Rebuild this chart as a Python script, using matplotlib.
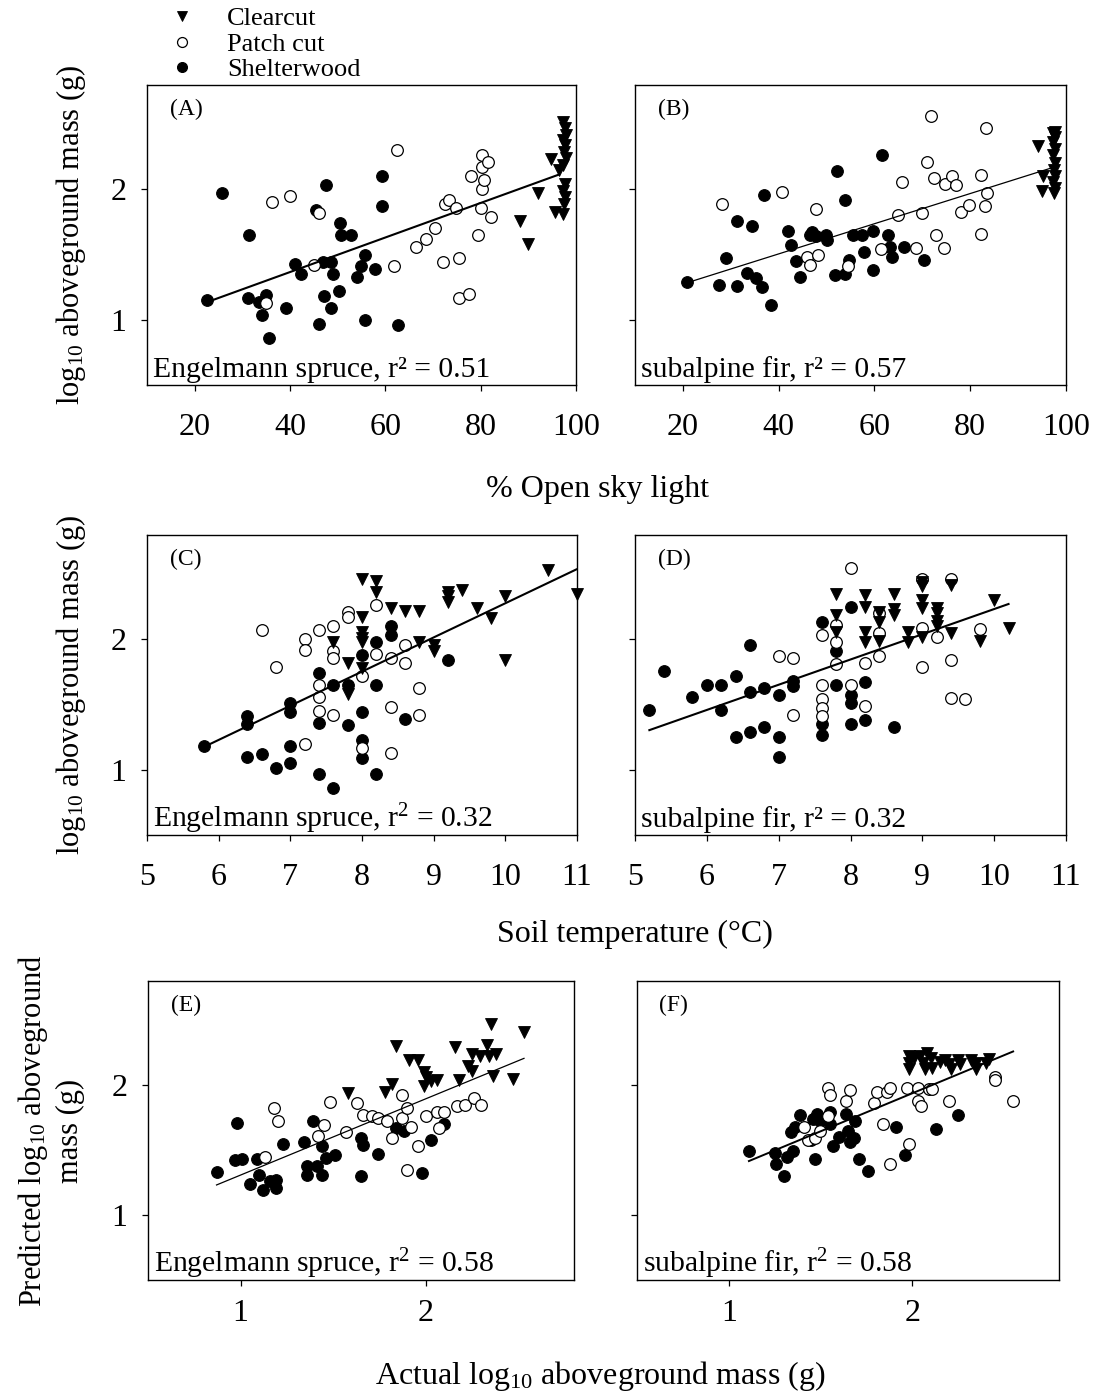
import matplotlib
matplotlib.use("Agg")
import matplotlib.pyplot as plt

plt.rcParams['font.family'] = ['Liberation Serif', 'DejaVu Serif']
plt.rcParams['mathtext.fontset'] = 'custom'
plt.rcParams['mathtext.rm'] = 'Liberation Serif'
plt.rcParams['mathtext.it'] = 'Liberation Serif:italic'

# ---- data ----
# (A) Engelmann spruce vs % open sky light
A_shelter_x = [22.5, 25.8, 31.4, 31.1, 33.5, 34.9, 34.2, 35.6, 39.1, 41.0, 42.3, 45.5, 46.0, 47.0, 47.5, 47.1,
               48.6, 48.7, 49.1, 50.2, 50.5, 50.8, 52.8, 54.0, 54.9, 55.8, 55.8, 57.9, 59.4, 59.4, 62.7]
A_shelter_y = [1.15, 1.97, 1.65, 1.17, 1.14, 1.19, 1.04, 0.86, 1.09, 1.43, 1.35, 1.84, 0.97, 1.44, 2.03, 1.18,
               1.09, 1.44, 1.35, 1.22, 1.74, 1.65, 1.65, 1.33, 1.41, 1.50, 1.00, 1.39, 2.10, 1.87, 0.96]
A_patch_x = [36.3, 40.0, 35.0, 45.1, 46.1, 61.9, 62.5, 66.5, 68.6, 70.5, 72.0, 72.6, 73.3, 74.8, 75.5, 75.4,
             77.6, 78.0, 79.5, 80.0, 80.3, 80.7, 80.3, 80.3, 81.5, 82.2]
A_patch_y = [1.90, 1.95, 1.13, 1.42, 1.82, 1.41, 2.30, 1.56, 1.62, 1.70, 1.44, 1.89, 1.92, 1.86, 1.47, 1.17,
             1.20, 2.10, 1.65, 1.86, 2.00, 2.07, 2.17, 2.26, 2.21, 1.79]
A_clear_x = [88.2, 89.9, 92.0, 94.8, 95.5, 96.4, 97.3, 97.6, 97.2, 97.7, 97.4, 97.8, 97.3, 97.6, 97.2, 97.7,
             97.5, 97.3, 97.8]
A_clear_y = [1.76, 1.58, 1.97, 2.23, 1.83, 2.15, 2.52, 2.47, 2.38, 2.34, 2.29, 2.24, 2.19, 2.04, 1.99, 1.94,
             1.89, 1.81, 2.42]

# (B) subalpine fir vs % open sky light
B_shelter_x = [20.9, 27.5, 29.1, 31.2, 31.3, 33.4, 35.2, 34.5, 36.6, 37.0, 38.5, 42.0, 42.6, 43.6, 44.4, 46.6,
               46.9, 47.9, 49.9, 50.1, 51.8, 53.8, 52.1, 53.9, 54.7, 55.6, 57.4, 57.9, 59.8, 59.8, 61.6, 62.8,
               63.3, 63.7, 66.1, 70.3]
B_shelter_y = [1.29, 1.27, 1.47, 1.76, 1.26, 1.36, 1.32, 1.72, 1.25, 1.96, 1.11, 1.68, 1.57, 1.45, 1.33, 1.65,
               1.67, 1.64, 1.65, 1.61, 1.34, 1.35, 2.14, 1.92, 1.46, 1.65, 1.65, 1.52, 1.68, 1.38, 2.26, 1.65,
               1.56, 1.48, 1.56, 1.46]
B_patch_x = [28.2, 40.6, 47.7, 45.9, 46.6, 48.3, 54.4, 61.4, 64.9, 65.8, 68.7, 70.0, 71.0, 71.9, 72.4, 72.9,
             74.7, 74.6, 76.1, 77.0, 78.1, 79.7, 82.2, 82.2, 83.1, 83.5, 83.2]
B_patch_y = [1.89, 1.98, 1.85, 1.48, 1.42, 1.50, 1.41, 1.54, 1.80, 2.06, 1.55, 1.82, 2.21, 2.56, 2.09, 1.65,
             2.04, 1.55, 2.10, 2.03, 1.83, 1.88, 2.11, 1.66, 1.87, 1.97, 2.47]
B_clear_x = [94.1, 95.1, 95.0, 97.2, 97.6, 97.3, 97.8, 97.2, 97.6, 97.4, 97.8, 97.3, 97.6, 97.4, 97.8]
B_clear_y = [2.33, 2.10, 1.99, 2.43, 2.40, 2.36, 2.31, 2.26, 2.20, 2.15, 2.10, 2.06, 2.01, 1.97, 2.44]

# (C) Engelmann spruce vs soil temperature
C_shelter_x = [5.8, 6.4, 6.4, 6.4, 6.6, 6.8, 7.0, 7.0, 7.0, 7.0, 7.4, 7.4, 7.4, 7.6, 7.6, 7.8, 7.8, 8.0, 8.0,
               8.0, 8.0, 8.2, 8.2, 8.2, 8.4, 8.4, 8.6, 9.2]
C_shelter_y = [1.18, 1.41, 1.35, 1.10, 1.12, 1.01, 1.51, 1.44, 1.18, 1.05, 1.74, 1.36, 0.97, 1.65, 0.86, 1.65,
               1.34, 1.88, 1.44, 1.23, 1.09, 1.65, 0.97, 1.98, 2.10, 2.03, 1.39, 1.84]
C_patch_x = [6.6, 6.8, 7.2, 7.2, 7.2, 7.4, 7.4, 7.4, 7.4, 7.6, 7.6, 7.6, 7.6, 7.8, 7.8, 8.0, 8.0, 8.2, 8.2,
             8.4, 8.4, 8.4, 8.6, 8.6, 8.8, 8.8]
C_patch_y = [2.07, 1.79, 2.00, 1.92, 1.20, 2.07, 1.65, 1.56, 1.45, 2.10, 1.91, 1.86, 1.42, 2.21, 2.17, 1.72,
             1.17, 2.26, 1.89, 1.86, 1.48, 1.13, 1.96, 1.82, 1.63, 1.42]
C_clear_x = [8.0, 8.2, 8.2, 8.0, 7.6, 7.8, 7.8, 8.0, 8.0, 8.0, 8.0, 8.4, 8.6, 8.8, 8.8, 9.0, 9.0, 9.2, 9.2,
             9.2, 9.4, 9.6, 9.8, 10.0, 10.0, 10.6, 11.0]
C_clear_y = [2.46, 2.45, 2.36, 2.17, 1.98, 1.82, 1.58, 2.06, 2.01, 1.98, 1.78, 2.24, 2.22, 2.22, 1.98, 1.96,
             1.91, 2.36, 2.33, 2.29, 2.38, 2.24, 2.16, 2.33, 1.84, 2.53, 2.35]

# (D) subalpine fir vs soil temperature
D_shelter_x = [5.2, 5.4, 5.8, 6.0, 6.2, 6.2, 6.4, 6.4, 6.6, 6.6, 6.6, 6.8, 6.8, 7.0, 7.0, 7.0, 7.2, 7.2, 7.6,
               7.6, 7.6, 7.8, 7.8, 8.0, 8.0, 8.0, 8.0, 8.2, 8.2, 8.6]
D_shelter_y = [1.46, 1.76, 1.56, 1.65, 1.65, 1.46, 1.72, 1.25, 1.96, 1.60, 1.29, 1.63, 1.33, 1.57, 1.25, 1.10,
               1.68, 1.64, 2.13, 1.35, 1.27, 1.91, 1.65, 2.25, 1.57, 1.51, 1.35, 1.67, 1.38, 1.33]
D_patch_x = [7.0, 7.2, 7.2, 7.6, 7.6, 7.6, 7.6, 7.6, 7.8, 7.8, 7.8, 8.0, 8.0, 8.2, 8.2, 8.4, 8.4, 8.4, 9.0,
             9.0, 9.0, 9.2, 9.4, 9.4, 9.4, 9.6, 9.8]
D_patch_y = [1.87, 1.86, 1.42, 2.03, 1.65, 1.54, 1.47, 1.41, 2.11, 1.98, 1.81, 2.55, 1.65, 1.82, 1.49, 2.20,
             2.05, 1.87, 2.46, 2.09, 1.79, 2.02, 2.46, 1.84, 1.55, 1.54, 2.08]
D_clear_x = [7.8, 7.8, 7.8, 8.2, 8.2, 8.2, 8.2, 8.4, 8.4, 8.6, 8.6, 8.6, 8.8, 8.8, 9.0, 9.0, 9.0, 9.0, 9.2,
             9.2, 9.2, 9.2, 9.4, 9.4, 9.8, 10.0, 10.2, 8.4, 9.0]
D_clear_y = [2.35, 2.19, 2.06, 2.34, 2.25, 2.06, 1.98, 2.13, 1.99, 2.35, 2.23, 2.19, 2.06, 1.98, 2.41, 2.30,
             2.24, 2.02, 2.24, 2.20, 2.14, 2.10, 2.42, 2.05, 1.99, 2.30, 2.09, 2.21, 2.44]

# (E) Engelmann spruce, predicted vs actual
E_shelter_x = [0.87, 0.98, 0.97, 1.01, 1.05, 1.09, 1.10, 1.12, 1.16, 1.19, 1.19, 1.23, 1.34, 1.36, 1.36, 1.39,
               1.41, 1.44, 1.44, 1.46, 1.51, 1.65, 1.66, 1.65, 1.74, 1.84, 1.88, 1.98, 2.03, 2.10]
E_shelter_y = [1.33, 1.71, 1.42, 1.43, 1.24, 1.43, 1.31, 1.19, 1.26, 1.21, 1.27, 1.55, 1.56, 1.38, 1.31, 1.72,
               1.38, 1.53, 1.31, 1.44, 1.46, 1.59, 1.54, 1.30, 1.47, 1.67, 1.65, 1.32, 1.58, 1.70]
E_patch_x = [1.13, 1.18, 1.20, 1.42, 1.45, 1.48, 1.57, 1.63, 1.66, 1.71, 1.74, 1.79, 1.82, 1.87, 1.87, 1.90,
             1.92, 1.96, 1.90, 2.00, 2.06, 2.07, 2.10, 2.17, 2.21, 2.26, 2.30]
E_patch_y = [1.45, 1.82, 1.72, 1.61, 1.69, 1.87, 1.64, 1.86, 1.77, 1.76, 1.75, 1.72, 1.59, 1.92, 1.75, 1.82,
             1.68, 1.53, 1.35, 1.76, 1.79, 1.67, 1.79, 1.84, 1.85, 1.90, 1.85]
E_clear_x = [1.58, 1.78, 1.82, 1.84, 1.91, 1.96, 1.99, 1.99, 2.00, 2.03, 2.06, 2.16, 2.18, 2.23, 2.25, 2.25,
             2.29, 2.33, 2.34, 2.35, 2.36, 2.38, 2.47, 2.53]
E_clear_y = [1.94, 1.95, 2.01, 2.30, 2.19, 2.19, 2.10, 1.99, 2.06, 2.03, 2.04, 2.29, 2.04, 2.15, 2.24, 2.11,
             2.22, 2.31, 2.22, 2.47, 2.07, 2.24, 2.05, 2.41]

# (F) subalpine fir, predicted vs actual
F_shelter_x = [1.11, 1.25, 1.26, 1.30, 1.32, 1.35, 1.34, 1.36, 1.39, 1.47, 1.46, 1.48, 1.45, 1.50, 1.55, 1.55,
               1.57, 1.60, 1.64, 1.65, 1.66, 1.69, 1.68, 1.71, 1.76, 1.91, 1.96, 2.13, 2.25]
F_shelter_y = [1.49, 1.48, 1.39, 1.30, 1.45, 1.49, 1.64, 1.68, 1.77, 1.43, 1.74, 1.78, 1.58, 1.72, 1.79, 1.70,
               1.53, 1.60, 1.78, 1.65, 1.56, 1.72, 1.59, 1.43, 1.34, 1.68, 1.46, 1.66, 1.77]
F_patch_x = [1.41, 1.43, 1.47, 1.50, 1.54, 1.55, 1.54, 1.64, 1.66, 1.79, 1.81, 1.86, 1.88, 1.84, 1.88, 1.98,
             1.97, 2.03, 2.03, 2.05, 2.09, 2.11, 2.20, 2.45, 2.45, 2.55]
F_patch_y = [1.68, 1.58, 1.59, 1.65, 1.98, 1.92, 1.76, 1.88, 1.96, 1.86, 1.95, 1.95, 1.98, 1.70, 1.39, 1.55,
             1.98, 1.98, 1.88, 1.84, 1.97, 1.97, 1.88, 2.06, 2.04, 1.88]
F_clear_x = [1.98, 1.98, 1.98, 2.01, 2.04, 2.06, 2.07, 2.08, 2.10, 2.11, 2.15, 2.18, 2.20, 2.21, 2.25, 2.26,
             2.32, 2.35, 2.35, 2.42, 2.40]
F_clear_y = [2.22, 2.17, 2.12, 2.21, 2.22, 2.17, 2.12, 2.25, 2.21, 2.13, 2.18, 2.19, 2.16, 2.12, 2.19, 2.16,
             2.19, 2.17, 2.12, 2.20, 2.17]

# regression lines (x start, x end, y start, y end)
fit_x0 = [23.4, 22.1, 5.87, 5.20, 0.87, 1.11]
fit_x1 = [96.4, 96.7, 10.99, 10.20, 2.53, 2.55]
fit_y0 = [1.146, 1.298, 1.195, 1.304, 1.231, 1.415]
fit_y1 = [2.113, 2.161, 2.536, 2.271, 2.205, 2.258]

panel_letters = ['(A)', '(B)', '(C)', '(D)', '(E)', '(F)']
panel_notes = ['Engelmann spruce, r\u00b2 = 0.51', 'subalpine fir, r\u00b2 = 0.57',
               'Engelmann spruce, r$^2$ = 0.32', 'subalpine fir, r\u00b2 = 0.32',
               'Engelmann spruce, r$^2$ = 0.58', 'subalpine fir, r$^2$ = 0.58']
x_limits = [(10, 100), (10, 100), (5, 11), (5, 11), (0.5, 2.8), (0.5, 2.8)]
x_ticks = [[20, 40, 60, 80, 100], [20, 40, 60, 80, 100], [5, 6, 7, 8, 9, 10, 11], [5, 6, 7, 8, 9, 10, 11],
           [1, 2], [1, 2]]

shelter = [(A_shelter_x, A_shelter_y), (B_shelter_x, B_shelter_y), (C_shelter_x, C_shelter_y),
           (D_shelter_x, D_shelter_y), (E_shelter_x, E_shelter_y), (F_shelter_x, F_shelter_y)]
patch = [(A_patch_x, A_patch_y), (B_patch_x, B_patch_y), (C_patch_x, C_patch_y),
         (D_patch_x, D_patch_y), (E_patch_x, E_patch_y), (F_patch_x, F_patch_y)]
clear = [(A_clear_x, A_clear_y), (B_clear_x, B_clear_y), (C_clear_x, C_clear_y),
         (D_clear_x, D_clear_y), (E_clear_x, E_clear_y), (F_clear_x, F_clear_y)]

# ---- layout (pixel boxes: left, right, top, bottom) ----
W, H = 1095, 1393
boxes = [(147, 576, 85, 385), (635, 1066, 85, 385),
         (147, 577, 535, 835), (635, 1066, 535, 835),
         (148, 574, 981, 1280), (637, 1059, 981, 1280)]
fit_lw = [1.5, 0.9, 1.5, 1.5, 0.9, 1.4]
tick_pad = [16, 16, 16, 16, 10, 10]

fig = plt.figure(figsize=(W / 100, H / 100), dpi=100)

handles = None
for i in range(6):
    l, r, t, b = boxes[i]
    ax = fig.add_axes([l / W, 1 - b / H, (r - l) / W, (b - t) / H])
    sh = ax.plot(shelter[i][0], shelter[i][1], 'o', ms=8.4, mfc='black', mec='black', mew=0.8,
                 clip_on=False, zorder=3)[0]
    pc = ax.plot(patch[i][0], patch[i][1], 'o', ms=8.4, mfc='white', mec='black', mew=0.9,
                 clip_on=False, zorder=4)[0]
    cc = ax.plot(clear[i][0], clear[i][1], 'v', ms=8.6, mfc='black', mec='black', mew=0.6,
                 clip_on=False, zorder=5)[0]
    ax.plot([fit_x0[i], fit_x1[i]], [fit_y0[i], fit_y1[i]], color='black', lw=fit_lw[i], zorder=6)
    if i == 0:
        handles = [cc, pc, sh]

    ax.set_xlim(*x_limits[i])
    ax.set_ylim(0.5, 2.8)
    ax.set_xticks(x_ticks[i])
    ax.set_yticks([1, 2])
    ax.tick_params(direction='out', length=4, width=0.9, labelsize=23)
    ax.tick_params(axis='x', pad=tick_pad[i])
    ax.tick_params(axis='y', pad=11)
    if i % 2 == 1:
        ax.tick_params(axis='y', labelleft=False)
    for sp in ax.spines.values():
        sp.set_linewidth(1.0)

    ax.text(0.053, 0.917, panel_letters[i], transform=ax.transAxes, fontsize=17,
            ha='left', va='center')
    ax.text(0.014, 0.027, panel_notes[i], transform=ax.transAxes, fontsize=21.3,
            ha='left', va='baseline')

    if i in (0, 2):
        ax.set_ylabel('log$_{10}$ aboveground mass (g)', fontsize=22)
        ax.yaxis.set_label_coords(-0.137, 0.5)
    if i == 4:
        ax.set_ylabel('Predicted log$_{10}$ aboveground\nmass (g)', fontsize=22, linespacing=1.25)
        ax.yaxis.set_label_coords(-0.148, 0.5)

fig.text(598 / W, 1 - 490 / H, '% Open sky light', fontsize=23, ha='center', va='center')
fig.text(635 / W, 1 - 934 / H, 'Soil temperature (\u00b0C)', fontsize=23, ha='center', va='center')
fig.text(600 / W, 1 - 1376 / H, 'Actual log$_{10}$ aboveground mass (g)', fontsize=23,
         ha='center', va='center')

fig.legend(handles, ['Clearcut', 'Patch cut', 'Shelterwood'], loc='upper left',
           bbox_to_anchor=(169 / W, 1 - 7 / H), frameon=False, fontsize=19,
           handlelength=1.0, handletextpad=1.2, labelspacing=0.07, borderpad=0,
           borderaxespad=0, markerscale=0.85)

fig.savefig('out.png', dpi=100)
